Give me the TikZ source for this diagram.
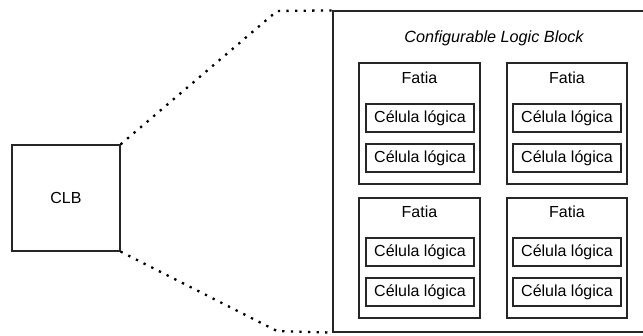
\documentclass[tikz,border=0pt]{standalone}
\usepackage{fontspec}
\setmainfont{Liberation Sans}
\begin{document}
\begin{tikzpicture}[x=1pt,y=-1pt,
  box/.style={draw=black!85,line width=1.2pt,rectangle,inner sep=0pt},
  cell/.style={box,minimum width=108pt,minimum height=28pt,font=\fontsize{16}{18}\selectfont},
  slice/.style={box,minimum width=121pt,minimum height=121pt},
  lbl/.style={inner sep=0pt,font=\fontsize{16}{18}\selectfont},
  zoomline/.style={line width=2.3pt,dash pattern=on 2.3pt off 6.3pt,black}]
\useasboundingbox (0,0) rectangle (643,336);
\clip (0,0) rectangle (643,336);
% small block on the left
\node[box,minimum width=108pt,minimum height=106pt,font=\fontsize{16}{18}\selectfont] (clb) at (66,198) {CLB};
% enlarged view of the block
\node[box,minimum width=327pt,minimum height=321pt] (big) at (496.5,171.5) {};
\node[lbl,font=\fontsize{16.2}{18}\selectfont\itshape] (title) at (494,38) {Configurable Logic Block};
% four slices
\node[slice] (s1) at (419.5,123.5) {};
\node[slice,minimum width=120pt] (s2) at (567,123.5) {};
\node[slice,minimum height=120pt] (s3) at (419.5,258) {};
\node[slice,minimum width=120pt,minimum height=120pt] (s4) at (567,258) {};
\node[lbl] (f1) at (419.5,78) {Fatia};
\node[lbl] (f2) at (567,78) {Fatia};
\node[lbl] (f3) at (419.5,212) {Fatia};
\node[lbl] (f4) at (567,212) {Fatia};
% logic cells
\node[cell] (c11) at (420,118) {Célula lógica};
\node[cell] (c12) at (420,158) {Célula lógica};
\node[cell] (c21) at (567,118) {Célula lógica};
\node[cell] (c22) at (567,158) {Célula lógica};
\node[cell] (c31) at (420,252) {Célula lógica};
\node[cell] (c32) at (420,292) {Célula lógica};
\node[cell] (c41) at (567,252) {Célula lógica};
\node[cell] (c42) at (567,292) {Célula lógica};
% dotted zoom lines
\coordinate (kt) at (277,11);
\coordinate (kb) at (277,331);
\draw[zoomline] (clb.north east) -- (kt) -- (big.north west);
\draw[zoomline] (clb.south east) -- (kb) -- (big.south west);
\end{tikzpicture}
\end{document}
